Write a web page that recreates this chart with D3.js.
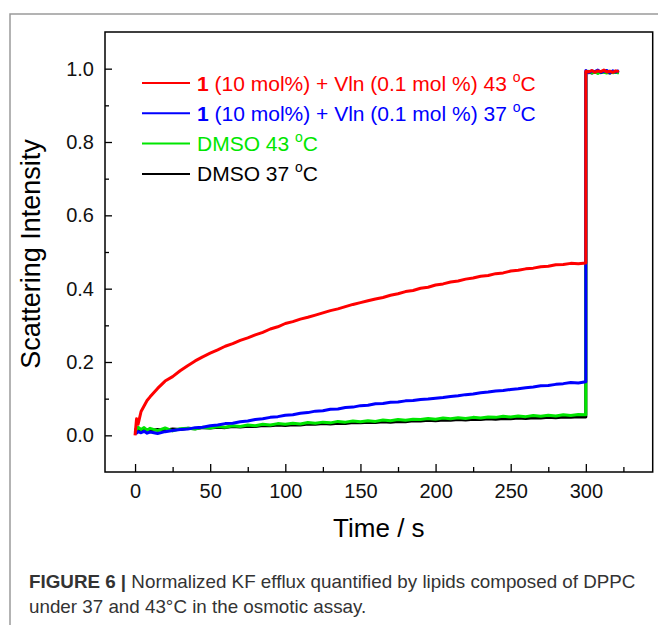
<!DOCTYPE html>
<html>
<head>
<meta charset="utf-8">
<script src="https://cdn.jsdelivr.net/npm/d3@7"></script>
<style>
  body { margin: 0; background: #fff; }
  svg { display: block; }
</style>
</head>
<body>
<div id="chart"></div>
<script>
var WIDTH = 658, HEIGHT = 625;
var PLOT_LEFT = 105, PLOT_TOP = 32, PLOT_RIGHT = 652.7, PLOT_BOTTOM = 472;

// sample times (s) for the efflux run, then the plateau after lysis at 300 s
var timePoints = [0,1,2,4,6,8,10,15,20,25,30,35,40,45,50,55,60,65,70,75,80,85,90,95,100,
  105,110,115,120,125,130,135,140,145,150,155,160,165,170,175,180,185,190,195,200,
  205,210,215,220,225,230,235,240,245,250,255,260,265,270,275,280,285,290,295,300];
var plateauTimes = [300,302,304,306,308,310,312,314,316,318,320,322];

var red43 = [0.000,0.045,0.030,0.065,0.080,0.095,0.105,0.128,0.148,0.160,0.176,0.190,0.203,0.214,0.224,
  0.233,0.243,0.250,0.259,0.266,0.274,0.281,0.290,0.296,0.305,0.310,0.317,0.322,0.328,0.334,
  0.340,0.345,0.351,0.357,0.362,0.367,0.372,0.376,0.382,0.386,0.392,0.395,0.401,0.404,0.410,
  0.413,0.418,0.421,0.426,0.429,0.434,0.436,0.441,0.443,0.448,0.450,0.454,0.456,0.460,0.461,
  0.465,0.466,0.469,0.468,0.470];
var blue37 = [0.012,0.006,0.010,0.007,0.011,0.006,0.009,0.005,0.010,0.013,0.016,0.017,0.021,0.022,0.026,
  0.028,0.032,0.033,0.037,0.039,0.043,0.045,0.049,0.051,0.055,0.056,0.060,0.062,0.066,0.067,
  0.071,0.072,0.076,0.077,0.081,0.082,0.086,0.087,0.090,0.091,0.094,0.095,0.098,0.099,0.101,
  0.103,0.106,0.108,0.111,0.113,0.116,0.118,0.121,0.122,0.125,0.127,0.130,0.132,0.135,0.136,
  0.139,0.141,0.144,0.143,0.146];
var green43 = [0.020,0.015,0.022,0.016,0.021,0.014,0.019,0.013,0.020,0.012,0.018,0.019,0.017,0.022,0.020,
  0.024,0.022,0.026,0.024,0.028,0.026,0.030,0.028,0.032,0.030,0.033,0.031,0.035,0.033,0.036,
  0.034,0.038,0.036,0.039,0.037,0.040,0.038,0.042,0.040,0.043,0.041,0.044,0.043,0.046,0.044,
  0.047,0.045,0.048,0.046,0.049,0.047,0.050,0.049,0.052,0.050,0.053,0.051,0.054,0.052,0.055,
  0.053,0.056,0.054,0.057,0.056];
var black37 = [0.012,0.017,0.013,0.016,0.012,0.015,0.013,0.016,0.014,0.017,0.016,0.019,0.018,0.021,0.020,
  0.022,0.021,0.024,0.023,0.025,0.024,0.027,0.026,0.028,0.027,0.029,0.028,0.031,0.030,0.032,
  0.031,0.033,0.032,0.035,0.034,0.036,0.035,0.037,0.036,0.038,0.037,0.040,0.039,0.041,0.040,
  0.042,0.041,0.043,0.042,0.044,0.043,0.045,0.044,0.046,0.045,0.047,0.046,0.048,0.047,0.049,
  0.048,0.050,0.049,0.051,0.050];

var redPlateau   = [0.993,0.991,0.995,0.990,0.994,0.992,0.996,0.991,0.993,0.990,0.994,0.992];
var bluePlateau  = [0.995,0.989,0.994,0.992,0.996,0.990,0.993,0.995,0.989,0.994,0.991,0.995];
var greenPlateau = [0.988,0.993,0.989,0.991,0.987,0.992,0.990,0.988,0.993,0.989,0.991,0.988];
var blackPlateau = [0.990,0.992,0.988,0.991,0.993,0.989,0.992,0.990,0.988,0.992,0.990,0.991];

var xMajorTicks = [0,50,100,150,200,250,300];
var xMinorTicks = [25,75,125,175,225,275,325];
var yMajorTicks = [0,0.2,0.4,0.6,0.8,1.0];
var yMinorTicks = [0.1,0.3,0.5,0.7,0.9];

// drawn back to front: black, green, blue, red
var seriesList = [
  { name: "DMSO 37", color: "#000000", values: black37, plateau: blackPlateau },
  { name: "DMSO 43", color: "#00e600", values: green43, plateau: greenPlateau },
  { name: "1 37",    color: "#0000ff", values: blue37,  plateau: bluePlateau },
  { name: "1 43",    color: "#ff0000", values: red43,   plateau: redPlateau }
];

var legendRows = [
  { bold: "1", rest: " (10 mol%) + Vln (0.1 mol %) 43 ", color: "#ff0000" },
  { bold: "1", rest: " (10 mol%) + Vln (0.1 mol %) 37 ", color: "#0000ff" },
  { bold: "",  rest: "DMSO 43 ", color: "#00e600" },
  { bold: "",  rest: "DMSO 37 ", color: "#000000" }
];

var svg = d3.select("#chart").append("svg")
    .attr("width", WIDTH)
    .attr("height", HEIGHT)
    .style("font-family", "'Liberation Sans', Arial, sans-serif");

// grey figure frame (cut by the page edge)
svg.append("path")
    .attr("d", "M10," + HEIGHT + "V14H" + WIDTH)
    .attr("fill", "none")
    .attr("stroke", "#9a9a9a")
    .attr("stroke-width", 1.5);

var x = d3.scaleLinear().domain([-20, 344.5]).range([PLOT_LEFT, PLOT_RIGHT]);
var y = d3.scaleLinear().domain([-0.1, 1.1]).range([PLOT_BOTTOM, PLOT_TOP]);

svg.append("g")
    .attr("transform", "translate(0," + PLOT_BOTTOM + ")")
    .call(d3.axisBottom(x).tickValues(xMajorTicks).tickSize(-8).tickPadding(12).tickFormat(d3.format("d")));
svg.append("g")
    .attr("transform", "translate(0," + PLOT_BOTTOM + ")")
    .call(d3.axisBottom(x).tickValues(xMinorTicks).tickSize(-5).tickFormat(""));
svg.append("g")
    .attr("transform", "translate(" + PLOT_LEFT + ",0)")
    .call(d3.axisLeft(y).tickValues(yMajorTicks).tickSize(-7).tickPadding(11).tickFormat(d3.format(".1f")));
svg.append("g")
    .attr("transform", "translate(" + PLOT_LEFT + ",0)")
    .call(d3.axisLeft(y).tickValues(yMinorTicks).tickSize(-4).tickFormat(""));

svg.selectAll(".domain").remove();
svg.selectAll(".tick line").attr("stroke", "#000").attr("stroke-width", 1.3);
svg.selectAll(".tick text")
    .attr("fill", "#111")
    .style("font-size", "20px")
    .style("font-family", "'Liberation Sans', Arial, sans-serif");

var line = d3.line()
    .x(function(d) { return x(d[0]); })
    .y(function(d) { return y(d[1]); });

seriesList.forEach(function(s) {
  var pts = timePoints.map(function(t, i) { return [t, s.values[i]]; })
      .concat(plateauTimes.map(function(t, i) { return [t, s.plateau[i]]; }));
  svg.append("path")
      .datum(pts)
      .attr("d", line)
      .attr("fill", "none")
      .attr("stroke", s.color)
      .attr("stroke-width", 3)
      .attr("stroke-linejoin", "round");
});

// plot frame
svg.append("rect")
    .attr("x", PLOT_LEFT)
    .attr("y", PLOT_TOP)
    .attr("width", PLOT_RIGHT - PLOT_LEFT)
    .attr("height", PLOT_BOTTOM - PLOT_TOP)
    .attr("fill", "none")
    .attr("stroke", "#000")
    .attr("stroke-width", 1.5);

// legend
var legend = svg.append("g");
legendRows.forEach(function(r, i) {
  var ly = 83 + i * 30.3;
  legend.append("line")
      .attr("x1", 142).attr("x2", 190)
      .attr("y1", ly).attr("y2", ly)
      .attr("stroke", r.color)
      .attr("stroke-width", 2);
  var txt = legend.append("text")
      .attr("x", 197)
      .attr("y", ly + 7.5)
      .attr("fill", r.color)
      .style("font-size", "21px");
  if (r.bold) txt.append("tspan").attr("font-weight", "bold").text(r.bold);
  txt.append("tspan").text(r.rest);
  txt.append("tspan").attr("dy", -9).style("font-size", "14px").text("o");
  txt.append("tspan").attr("dy", 9).text("C");
});

// axis titles
svg.append("text")
    .attr("x", (PLOT_LEFT + PLOT_RIGHT) / 2)
    .attr("y", 537)
    .attr("text-anchor", "middle")
    .style("font-size", "26px")
    .text("Time / s");

svg.append("text")
    .attr("transform", "translate(40,254) rotate(-90)")
    .attr("text-anchor", "middle")
    .style("font-size", "27px")
    .text("Scattering Intensity");

// caption, narrow sans squeezed to the reference width
var caption = svg.append("g")
    .style("font-family", "'Liberation Sans', Arial, sans-serif")
    .style("font-size", "18px")
    .attr("fill", "#333");
var cap1 = caption.append("text").attr("x", 0).attr("y", 588);
cap1.append("tspan").attr("font-weight", "bold").text("FIGURE 6 |");
cap1.append("tspan").text(" Normalized KF efflux quantified by lipids composed of DPPC");
caption.append("text").attr("x", 0).attr("y", 613)
    .text("under 37 and 43\u00B0C in the osmotic assay.");
var capW = cap1.node().getComputedTextLength();
caption.attr("transform", "translate(29,0) scale(" + (607 / capW) + ",1)");
</script>
</body>
</html>
